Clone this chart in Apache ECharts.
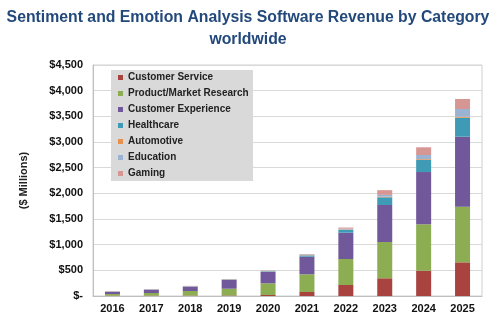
<!DOCTYPE html>
<html><head><meta charset="utf-8">
<script src="https://cdn.jsdelivr.net/npm/echarts@6/dist/echarts.min.js"></script>
<style>html,body{margin:0;padding:0;background:#fff}#c{width:496px;height:324px}</style>
</head><body><div id="c"></div>
<script>
const years = ['2016','2017','2018','2019','2020','2021','2022','2023','2024','2025'];
const customerService = [8, 8, 8, 10, 20, 78, 214, 345, 493, 656];
const productMarket = [31, 50, 89, 132, 227, 345, 507, 707, 904, 1084];
const customerExperience = [45, 65, 85, 170, 220, 343, 512, 721, 1018, 1363];
const healthcare = [2, 3, 5, 8, 12, 25, 55, 150, 235, 370];
const automotive = [1, 1, 2, 2, 3, 5, 8, 12, 15, 20];
const education = [1, 2, 3, 4, 8, 12, 15, 35, 82, 150];
const gaming = [3, 4, 5, 6, 6, 10, 22, 92, 150, 195];
const seriesNames = ['Customer Service','Product/Market Research','Customer Experience','Healthcare','Automotive','Education','Gaming'];
const seriesData = [customerService, productMarket, customerExperience, healthcare, automotive, education, gaming];
const colors = ['#A84340','#8DAD52','#71589A','#3F9BB5','#E9914A','#9AB3D3','#D69694'];

const chart = echarts.init(document.getElementById('c'));
chart.setOption({
  animation: false,
  color: colors,
  title: {
    text: 'Sentiment and Emotion Analysis Software Revenue by Category\nworldwide',
    left: 'center', top: 2,
    textStyle: {fontFamily: 'Liberation Sans', fontSize: 15.8, fontWeight: 'bold', color: '#23497C', lineHeight: 22}
  },
  graphic: [{type: 'rect', left: 111, top: 70, shape: {width: 142, height: 111}, style: {fill: '#D9D9D9'}, z: 5}],
  legend: {
    orient: 'vertical', left: 111, top: 70, z: 10,
    itemWidth: 5, itemHeight: 5, itemGap: 3, padding: [1, 4, 1, 7],
    icon: 'rect',
    textStyle: {fontFamily: 'Liberation Sans', fontSize: 10, fontWeight: 'bold', color: '#222', lineHeight: 13}
  },
  grid: {left: 93, right: 14, top: 65, bottom: 28, show: true, borderColor: '#D0D0D0', borderWidth: 1},
  xAxis: {
    type: 'category', data: years,
    axisLine: {lineStyle: {color: '#BFBFBF'}}, axisTick: {show: false},
    axisLabel: {fontFamily: 'Liberation Sans', fontSize: 11, fontWeight: 'bold', color: '#111', margin: 7}
  },
  yAxis: {
    type: 'value', min: 0, max: 4500, interval: 500,
    name: '($ Millions)', nameLocation: 'middle', nameGap: 64, nameRotate: 90,
    nameTextStyle: {fontFamily: 'Liberation Sans', fontSize: 11, fontWeight: 'bold', color: '#222'},
    axisLine: {show: true, lineStyle: {color: '#BFBFBF'}}, axisTick: {show: false},
    splitLine: {lineStyle: {color: '#D9D9D9'}},
    axisLabel: {fontFamily: 'Liberation Sans', fontSize: 11, fontWeight: 'bold', color: '#111', margin: 10,
      formatter: v => v === 0 ? '$-' : '$' + v.toLocaleString('en-US')}
  },
  series: seriesNames.map((n, i) => ({
    name: n, type: 'bar', stack: 'total', data: seriesData[i], barWidth: 15
  }))
});
</script></body></html>
